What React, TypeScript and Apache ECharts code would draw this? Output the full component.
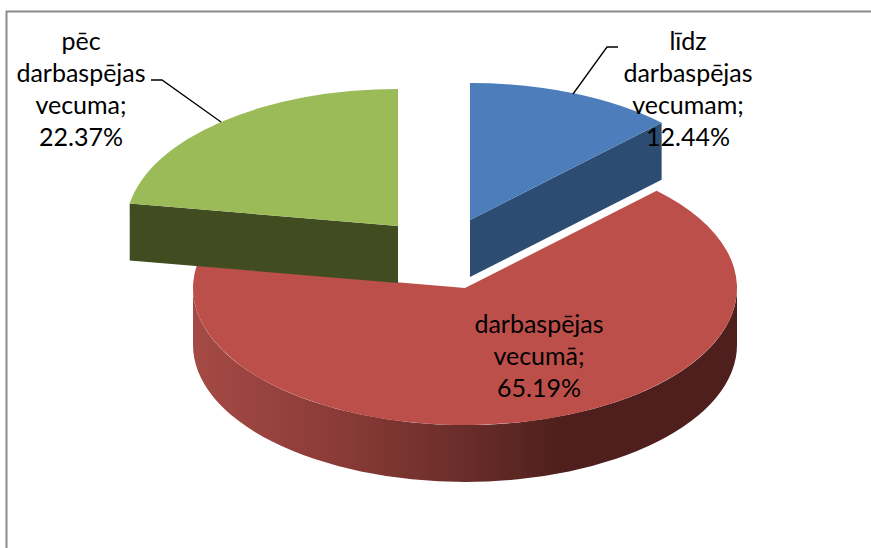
import React, { useEffect, useRef } from "react";
import * as echarts from "echarts";

const categories = ["līdz\ndarbaspējas\nvecumam;", "darbaspējas\nvecumā;", "pēc\ndarbaspējas\nvecuma;"];
const shares = [12.44, 65.19, 22.37];
const topColors = ["#4d7ebb", "#bd4f4b", "#9bbb59"];
const faceColors = ["#2d4c71", "#4e1f1c", "#414c20"];
const stackOrder = [3, 1, 2];
const centerX = [470, 465, 398];
const centerY = [220, 288, 226];
const labelX = [688, 539, 81];
const labelY = [24, 307, 24];
const leaders = [
  [[618, 47], [607, 47], [573, 94]],
  null,
  [[151, 80], [162, 80], [221, 122]],
];

const RX = 272;
const RY = 137;
const DEPTH = 57;
const FONT = "Lato";

const pt = (cx: number, cy: number, deg: number, dy = 0) => {
  const t = (deg * Math.PI) / 180;
  return [cx + RX * Math.sin(t), cy - RY * Math.cos(t) + dy];
};
const f = (p: number[]) => `${p[0].toFixed(2)} ${p[1].toFixed(2)}`;

const wallGradient = {
  type: "linear", x: 0, y: 0, x2: 1, y2: 0,
  colorStops: [
    { offset: 0, color: "#a54a45" },
    { offset: 0.25, color: "#8c3c38" },
    { offset: 0.5, color: "#6a2d2a" },
    { offset: 0.68, color: "#4e1f1c" },
    { offset: 1, color: "#4e1f1c" },
  ],
};

function renderItem(params: any, api: any) {
  const i = params.dataIndex;
  const total = shares.reduce((a, b) => a + b, 0);
  const before = shares.slice(0, i).reduce((a, b) => a + b, 0);
  const start = (before / total) * 360;
  const end = ((before + api.value(0)) / total) * 360;
  const cx = centerX[i];
  const cy = centerY[i];
  const z = stackOrder[i] * 10;
  const children: any[] = [];

  const a = pt(cx, cy, start);
  const b = pt(cx, cy, end);
  const large = end - start > 180 ? 1 : 0;

  // outer rim, visible only on the front half of the ellipse
  const ws = Math.max(start, 90);
  const we = Math.min(end, 270);
  if (we > ws) {
    const d =
      `M${f(pt(cx, cy, ws))} A${RX} ${RY} 0 ${we - ws > 180 ? 1 : 0} 1 ${f(pt(cx, cy, we))} ` +
      `L${f(pt(cx, cy, we, DEPTH))} A${RX} ${RY} 0 ${we - ws > 180 ? 1 : 0} 0 ${f(pt(cx, cy, ws, DEPTH))} Z`;
    children.push({ type: "path", z2: z, shape: { pathData: d }, style: { fill: wallGradient } });
  }
  // radial cut face
  const face = (p: number[]) =>
    children.push({
      type: "polygon",
      z2: z + 1,
      shape: { points: [[cx, cy], p, [p[0], p[1] + DEPTH], [cx, cy + DEPTH]] },
      style: { fill: faceColors[i] },
    });
  if (end > 0 && end < 180) face(b);
  if (start > 180 && start < 360) face(a);

  // top
  children.push({
    type: "path",
    z2: z + 2,
    shape: { pathData: `M${cx} ${cy} L${f(a)} A${RX} ${RY} 0 ${large} 1 ${f(b)} Z` },
    style: { fill: topColors[i] },
  });
  return { type: "group", children };
}

export default function App() {
  const ref = useRef<HTMLDivElement>(null);
  useEffect(() => {
    const chart = echarts.init(ref.current!, undefined, { renderer: "svg" });
    const labelGraphics = categories.map((c, i) => ({
      type: "text",
      z: 20,
      x: labelX[i],
      y: labelY[i],
      style: {
        text: `${c}\n${shares[i].toFixed(2)}%`,
        font: `25px ${FONT}, sans-serif`,
        fill: "#000",
        align: "center",
        verticalAlign: "top",
        lineHeight: 32,
      },
    }));
    const leaderGraphics = leaders
      .filter((l) => l)
      .map((l) => ({
        type: "polyline",
        z: 20,
        shape: { points: l },
        style: { stroke: "#000", lineWidth: 1.3, fill: "none" },
      }));
    chart.setOption({
      animation: false,
      backgroundColor: "#fff",
      graphic: [
        {
          type: "polyline",
          z: 1,
          shape: { points: [[6.5, 548], [6.5, 11.5], [871, 11.5]] },
          style: { stroke: "#8c8c8c", lineWidth: 2, fill: "none" },
        },
        ...leaderGraphics,
        ...labelGraphics,
      ],
      series: [
        {
          type: "custom",
          coordinateSystem: "none",
          renderItem,
          data: shares.map((v) => [v]),
          silent: true,
        },
      ],
    });
    return () => chart.dispose();
  }, []);
  return (
    <div
      ref={ref}
      style={{ position: "absolute", left: 0, top: 0, width: 871, height: 548 }}
    />
  );
}
